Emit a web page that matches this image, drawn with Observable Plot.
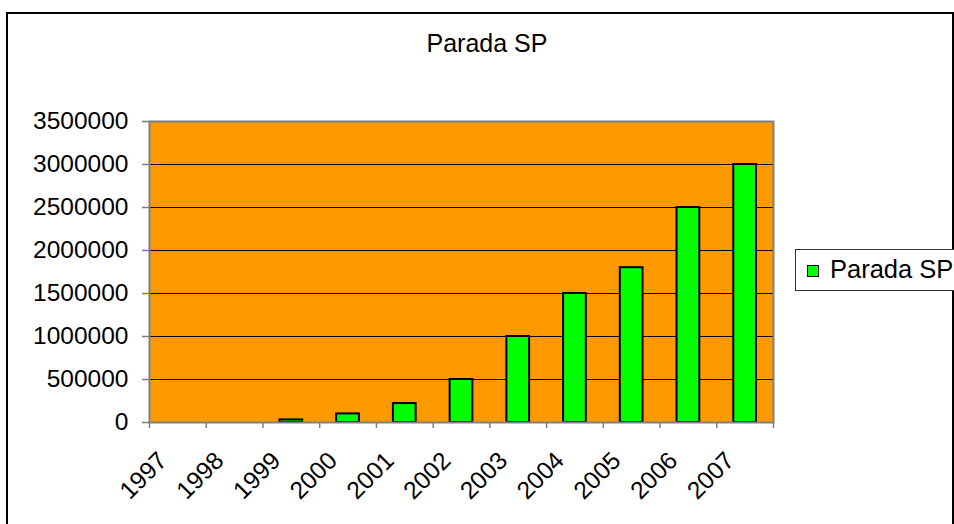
<!DOCTYPE html>
<html>
<head>
<meta charset="utf-8">
<script src="https://cdn.jsdelivr.net/npm/d3@7"></script>
<script src="https://cdn.jsdelivr.net/npm/@observablehq/plot@0.6"></script>
<style>
  html, body { margin: 0; padding: 0; background: #fff; overflow: hidden; }
  #wrap { position: relative; width: 954px; height: 524px; overflow: hidden;
          font-family: "Liberation Sans", Arial, sans-serif; color: #000; }
  #border { position: absolute; left: 6px; top: 12px; width: 948px; height: 600px;
            border: 2px solid #000; box-sizing: border-box; }
  #title { position: absolute; top: 31px; left: 487px; transform: translateX(-50%);
           font-size: 25px; line-height: 24px; white-space: nowrap; }
  #chart { position: absolute; left: 0; top: 0; }
  #legend { position: absolute; left: 795px; top: 249px; width: 180px; height: 42px;
            border: 1px solid #333; box-sizing: border-box; background: #fff; }
  #swatch { position: absolute; left: 11px; top: 15px; width: 10px; height: 10px;
            background: #00FF00; border: 1px solid #000; }
  #ltext { position: absolute; left: 34px; top: 7px; font-size: 25.5px; line-height: 24px; white-space: nowrap; }
</style>
</head>
<body>
<div id="wrap">
  <div id="border"></div>
  <div id="chart"></div>
  <div id="title"></div>
  <div id="legend"><div id="swatch"></div><div id="ltext"></div></div>
</div>
<script>
const title = "Parada SP";
const seriesName = "Parada SP";
const years = ["1997", "1998", "1999", "2000", "2001", "2002", "2003", "2004", "2005", "2006", "2007"];
const visitors = [0, 0, 30000, 100000, 220000, 500000, 1000000, 1500000, 1800000, 2500000, 3000000];
const yTicks = [0, 500000, 1000000, 1500000, 2000000, 2500000, 3000000, 3500000];

const data = years.map((year, i) => ({year, index: i, value: visitors[i]}));

document.getElementById("title").textContent = title;
document.getElementById("ltext").textContent = seriesName;

const chart = Plot.plot({
  width: 954,
  height: 524,
  marginLeft: 149,
  marginRight: 181,
  marginTop: 121,
  marginBottom: 102,
  x: {domain: [0, years.length], axis: null},
  y: {domain: [0, 3500000], axis: null},
  style: {fontFamily: "'Liberation Sans', Arial, sans-serif", background: "transparent", overflow: "visible", color: "#000"},
  marks: [
    Plot.frame({fill: "#FF9900", stroke: null}),
    Plot.ruleY(yTicks.filter(t => t > 0 && t < 3500000), {stroke: "#000", strokeWidth: 1}),
    Plot.rectY(data.filter(d => d.value > 0), {
      x1: "index", x2: d => d.index + 1, y: "value",
      insetLeft: 17, insetRight: 17,
      fill: "#00FF00", stroke: "#000", strokeWidth: 2
    }),
    Plot.frame({stroke: "#808080", strokeWidth: 2}),
    Plot.axisY({ticks: yTicks, tickSize: 7, tickPadding: 14, tickFormat: d => String(d),
                fontSize: 24.5, stroke: "#808080", strokeWidth: 1.5, fill: "#000", label: null}),
    Plot.axisX({ticks: d3.range(0, years.length + 1), tickSize: 6, tickFormat: () => "",
                stroke: "#808080", strokeWidth: 1.5, label: null}),
    Plot.text(data, {
      x: d => d.index + 0.5, text: "year", frameAnchor: "bottom",
      rotate: -45, textAnchor: "end", lineAnchor: "middle",
      dx: -15, dy: 34, fontSize: 24.5, fill: "#000"
    })
  ]
});
document.getElementById("chart").appendChild(chart);
</script>
</body>
</html>
